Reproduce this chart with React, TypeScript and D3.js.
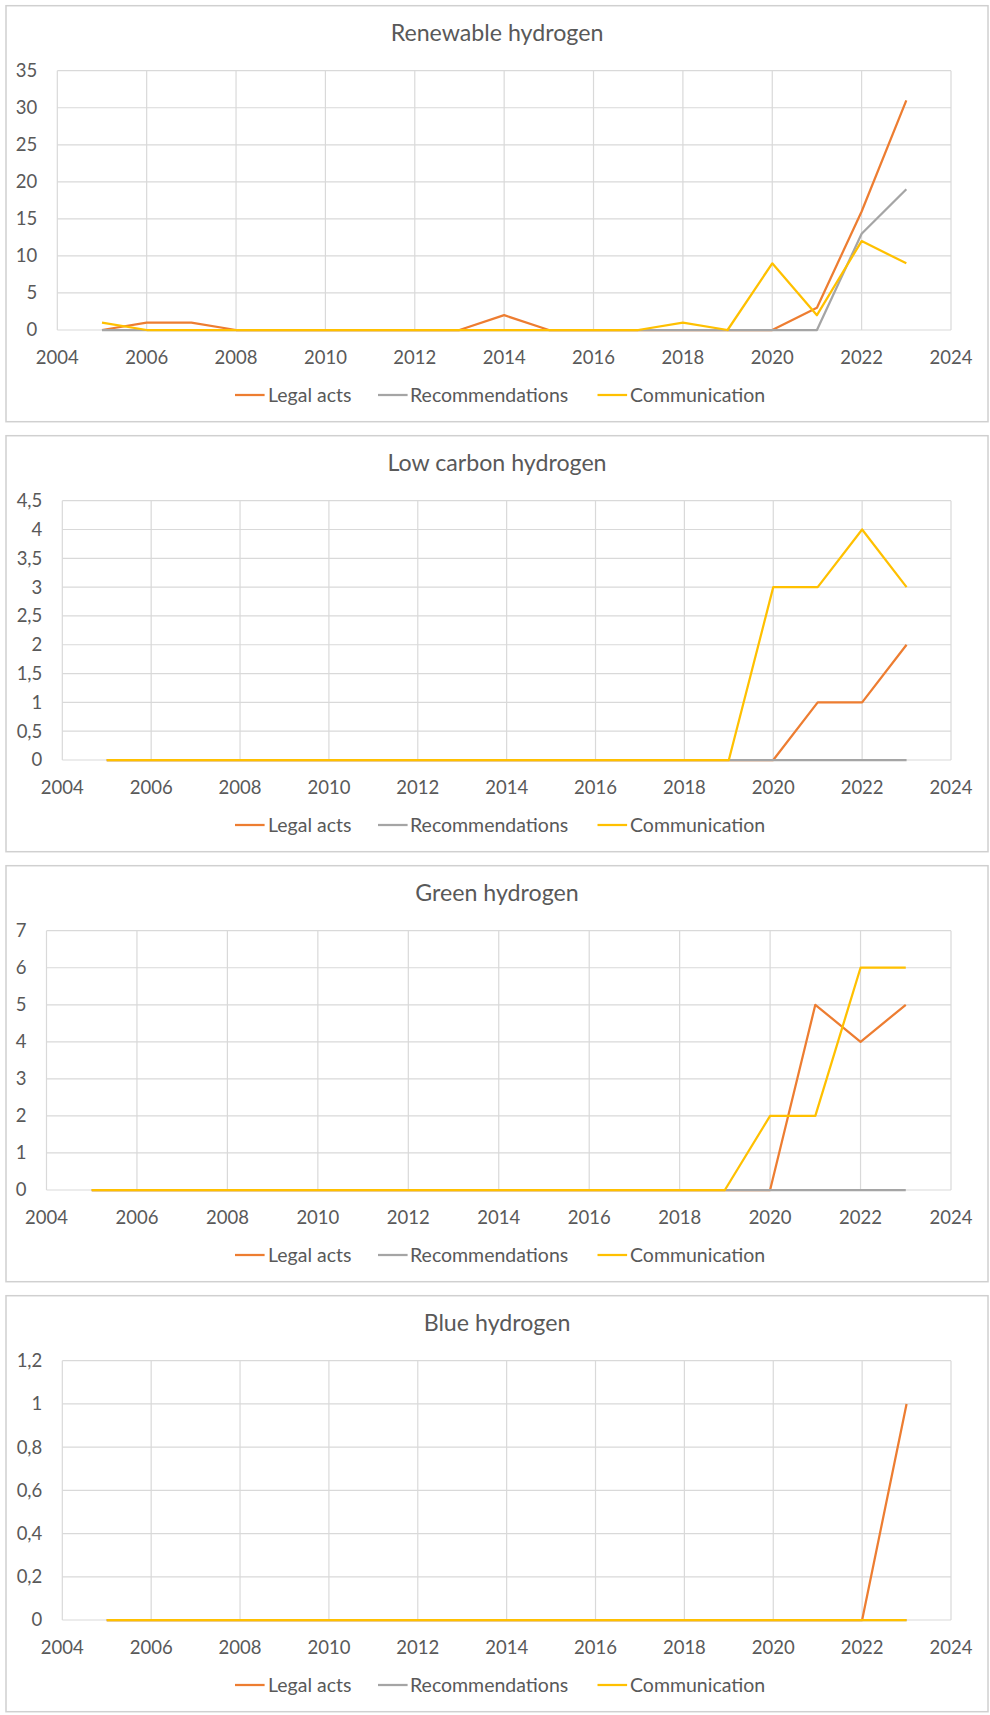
import React from "react";
import * as d3 from "d3";

const years = [2005, 2006, 2007, 2008, 2009, 2010, 2011, 2012, 2013, 2014, 2015, 2016, 2017, 2018, 2019, 2020, 2021, 2022, 2023];
const seriesNames = ["Legal acts", "Recommendations", "Communication"];
const seriesColors = ["#ED7D31", "#A5A5A5", "#FFC000"];
const xTicks = [2004, 2006, 2008, 2010, 2012, 2014, 2016, 2018, 2020, 2022, 2024];

const chartTitles = ["Renewable hydrogen", "Low carbon hydrogen", "Green hydrogen", "Blue hydrogen"];

const renewableLegal = [0, 1, 1, 0, 0, 0, 0, 0, 0, 2, 0, 0, 0, 0, 0, 0, 3, 16, 31];
const renewableRecs = [0, 0, 0, 0, 0, 0, 0, 0, 0, 0, 0, 0, 0, 0, 0, 0, 0, 13, 19];
const renewableComm = [1, 0, 0, 0, 0, 0, 0, 0, 0, 0, 0, 0, 0, 1, 0, 9, 2, 12, 9];

const lowCarbonLegal = [0, 0, 0, 0, 0, 0, 0, 0, 0, 0, 0, 0, 0, 0, 0, 0, 1, 1, 2];
const lowCarbonRecs = [0, 0, 0, 0, 0, 0, 0, 0, 0, 0, 0, 0, 0, 0, 0, 0, 0, 0, 0];
const lowCarbonComm = [0, 0, 0, 0, 0, 0, 0, 0, 0, 0, 0, 0, 0, 0, 0, 3, 3, 4, 3];

const greenLegal = [0, 0, 0, 0, 0, 0, 0, 0, 0, 0, 0, 0, 0, 0, 0, 0, 5, 4, 5];
const greenRecs = [0, 0, 0, 0, 0, 0, 0, 0, 0, 0, 0, 0, 0, 0, 0, 0, 0, 0, 0];
const greenComm = [0, 0, 0, 0, 0, 0, 0, 0, 0, 0, 0, 0, 0, 0, 0, 2, 2, 6, 6];

const blueLegal = [0, 0, 0, 0, 0, 0, 0, 0, 0, 0, 0, 0, 0, 0, 0, 0, 0, 0, 1];
const blueRecs = [0, 0, 0, 0, 0, 0, 0, 0, 0, 0, 0, 0, 0, 0, 0, 0, 0, 0, 0];
const blueComm = [0, 0, 0, 0, 0, 0, 0, 0, 0, 0, 0, 0, 0, 0, 0, 0, 0, 0, 0];

const renewableTicks = [0, 5, 10, 15, 20, 25, 30, 35];
const lowCarbonTicks = [0, 0.5, 1, 1.5, 2, 2.5, 3, 3.5, 4, 4.5];
const greenTicks = [0, 1, 2, 3, 4, 5, 6, 7];
const blueTicks = [0, 0.2, 0.4, 0.6, 0.8, 1, 1.2];

const charts = [
  { title: chartTitles[0], series: [renewableLegal, renewableRecs, renewableComm], ticks: renewableTicks },
  { title: chartTitles[1], series: [lowCarbonLegal, lowCarbonRecs, lowCarbonComm], ticks: lowCarbonTicks },
  { title: chartTitles[2], series: [greenLegal, greenRecs, greenComm], ticks: greenTicks },
  { title: chartTitles[3], series: [blueLegal, blueRecs, blueComm], ticks: blueTicks },
];

const plotLefts = [57.3, 62.3, 46.5, 62.3];
const FONT = "Lato, 'Open Sans', sans-serif";
const TEXT = "#595959";

function fmt(v: number) {
  return String(Math.round(v * 10) / 10).replace(".", ",");
}

function Panel({ chart, idx }: { chart: any; idx: number }) {
  const top = 5.7 + 430 * idx;
  const left = 6;
  const width = 982;
  const height = 416;
  const pl = plotLefts[idx];
  const pr = 951;
  const pt = top + 65;
  const pb = top + 324.3;
  const x = d3.scaleLinear().domain([2004, 2024]).range([pl, pr]);
  const ticks: number[] = chart.ticks;
  const y = d3.scaleLinear().domain([0, ticks[ticks.length - 1]]).range([pb, pt]);
  const line = d3
    .line<number>()
    .x((_, i) => x(years[i]))
    .y((d) => y(d));
  const legendItems = [
    { lx: 235, tx: 268 },
    { lx: 378, tx: 410 },
    { lx: 597.5, tx: 630 },
  ];
  const legendY = top + 389.3;
  return (
    <g>
      <rect x={left} y={top} width={width} height={height} fill="#fff" stroke="#D0D0D0" strokeWidth={1.5} />
      <text x={left + width / 2} y={top + 35.5} textAnchor="middle" fontFamily={FONT} fontSize={23.2} fill={TEXT}>
        {chart.title}
      </text>
      {ticks.map((t) => (
        <line key={"h" + t} x1={pl} x2={pr} y1={y(t)} y2={y(t)} stroke="#D9D9D9" strokeWidth={1.2} />
      ))}
      {xTicks.map((t) => (
        <line key={"v" + t} x1={x(t)} x2={x(t)} y1={pt} y2={pb} stroke="#D9D9D9" strokeWidth={1.2} />
      ))}
      {ticks.map((t) => (
        <text key={"yl" + t} x={pl - 20} y={y(t)} dy="0.35em" textAnchor="end" fontFamily={FONT} fontSize={18.5} fill={TEXT}>
          {fmt(t)}
        </text>
      ))}
      {xTicks.map((t) => (
        <text key={"xl" + t} x={x(t)} y={pb + 33.5} textAnchor="middle" fontFamily={FONT} fontSize={18.5} fill={TEXT}>
          {t}
        </text>
      ))}
      {chart.series.map((s: number[], i: number) => (
        <path key={"s" + i} d={line(s) || ""} fill="none" stroke={seriesColors[i]} strokeWidth={2.25} strokeLinejoin="round" />
      ))}
      {seriesNames.map((n, i) => (
        <g key={"lg" + i}>
          <line x1={legendItems[i].lx} x2={legendItems[i].lx + 29.6} y1={legendY} y2={legendY} stroke={seriesColors[i]} strokeWidth={2.25} />
          <text x={legendItems[i].tx} y={legendY} dy="0.35em" fontFamily={FONT} fontSize={19.5} fill={TEXT}>
            {n}
          </text>
        </g>
      ))}
    </g>
  );
}

export default function App() {
  return (
    <svg width={990} height={1715} style={{ position: "absolute", left: 0, top: 0, background: "#fff" }}>
      <rect x={0} y={0} width={990} height={1715} fill="#fff" />
      {charts.map((c, i) => (
        <Panel key={i} chart={c} idx={i} />
      ))}
    </svg>
  );
}
